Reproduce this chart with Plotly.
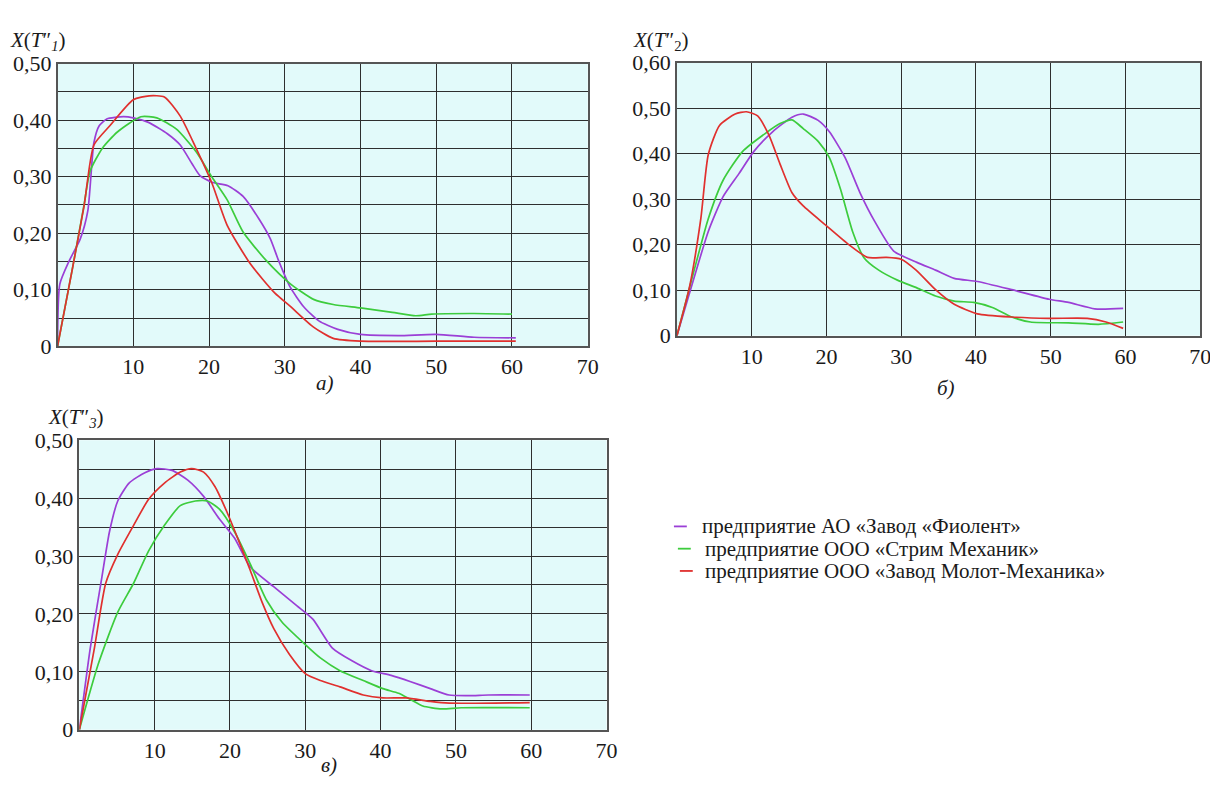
import plotly.graph_objects as go

W, H = 1218, 788
OFF = 8  # default page body margin of the written html

companies = ["предприятие АО «Завод «Фиолент»",
             "предприятие ООО «Стрим Механик»",
             "предприятие ООО «Завод Молот-Механика»"]
colors = ["#9b3fd6", "#3dcc3d", "#e0302e"]

# ---- panel а) X(T1'') ----
a_purple_x = [0, 0.3, 1.5, 3, 4, 4.8, 5.5, 6.5, 8.7, 10, 12, 14.5, 16.2, 17.8, 18.8, 20.4, 22.5, 24.5, 26.6, 28.1, 29.2, 30.7, 32.5, 34.5, 37, 40, 45, 50, 55, 60.5]
a_purple_y = [0, 0.11, 0.15, 0.19, 0.24, 0.36, 0.39, 0.402, 0.406, 0.404, 0.396, 0.376, 0.356, 0.322, 0.302, 0.29, 0.284, 0.265, 0.225, 0.19, 0.151, 0.105, 0.07, 0.045, 0.03, 0.021, 0.019, 0.021, 0.016, 0.015]
a_green_x = [0, 2, 3.5, 4.3, 5.9, 7.9, 11, 13.1, 15.7, 18.3, 20.4, 22.4, 24.5, 27.6, 30.7, 33.8, 36.4, 40, 44.2, 47.3, 49.4, 55, 60]
a_green_y = [0, 0.14, 0.25, 0.31, 0.35, 0.379, 0.406, 0.404, 0.384, 0.344, 0.299, 0.259, 0.202, 0.151, 0.111, 0.083, 0.074, 0.068, 0.06, 0.054, 0.057, 0.058, 0.057]
a_red_x = [0, 2, 3.5, 4.8, 6.9, 10, 12.1, 14.1, 16.2, 18.3, 20.4, 22.4, 25.5, 28.7, 30.7, 33.8, 36.4, 40, 50, 60.5]
a_red_y = [0, 0.14, 0.248, 0.356, 0.39, 0.436, 0.443, 0.441, 0.407, 0.35, 0.288, 0.214, 0.145, 0.094, 0.071, 0.034, 0.014, 0.009, 0.009, 0.009]

# ---- panel б) X(T2'') ----
b_purple_x = [0, 1.7, 4.2, 6.2, 8.3, 10.3, 12.8, 15.4, 16.9, 18.9, 20.4, 22.5, 24.5, 26.5, 29, 32.1, 34.6, 37.1, 40.2, 44.8, 49.8, 52.4, 55.9, 59.7]
b_purple_y = [0, 0.094, 0.229, 0.306, 0.356, 0.405, 0.448, 0.48, 0.487, 0.473, 0.448, 0.391, 0.314, 0.25, 0.186, 0.161, 0.144, 0.126, 0.119, 0.101, 0.08, 0.073, 0.059, 0.06]
b_green_x = [0, 2.2, 4.2, 6.2, 8.8, 11.8, 13.8, 15.4, 16.9, 18.9, 20.4, 21.9, 23.5, 25, 27, 29.5, 32.1, 34.6, 37.1, 39.7, 42.2, 44.8, 47.3, 52.4, 56.4, 59.7]
b_green_y = [0, 0.137, 0.257, 0.342, 0.405, 0.444, 0.466, 0.474, 0.455, 0.427, 0.391, 0.321, 0.229, 0.172, 0.144, 0.122, 0.105, 0.087, 0.076, 0.073, 0.062, 0.041, 0.03, 0.028, 0.025, 0.03]
b_red_x = [0, 1.7, 3.2, 4.2, 5.7, 7.8, 9.3, 10.8, 12.3, 13.8, 15.4, 16.9, 19.9, 23, 25.5, 28, 30, 32, 34.6, 37.1, 40.2, 44.8, 49.8, 54.9, 57.4, 59.7]
b_red_y = [0, 0.108, 0.257, 0.398, 0.462, 0.487, 0.492, 0.483, 0.441, 0.377, 0.314, 0.285, 0.243, 0.2, 0.172, 0.172, 0.168, 0.144, 0.101, 0.069, 0.048, 0.041, 0.038, 0.038, 0.03, 0.016]

# ---- panel в) X(T3'') ----
c_purple_x = [0, 1.45, 3.0, 4.0, 5.1, 6.6, 8.7, 10.3, 12.3, 14.4, 16.5, 18.6, 20.6, 22.7, 25.8, 28.9, 31, 33.6, 36.2, 38.8, 41.4, 44, 46.6, 49.1, 51.7, 54.3, 59.8]
c_purple_y = [0, 0.141, 0.264, 0.342, 0.395, 0.426, 0.444, 0.451, 0.448, 0.431, 0.403, 0.364, 0.331, 0.281, 0.247, 0.214, 0.191, 0.141, 0.119, 0.102, 0.094, 0.083, 0.071, 0.06, 0.059, 0.06, 0.06]
c_green_x = [0, 2.5, 5.1, 7.2, 9.2, 11.3, 13.4, 15.4, 17, 18.6, 20.6, 22.7, 24.8, 26.9, 30, 32, 34.6, 37.7, 40.3, 42.4, 44, 45.6, 48.1, 50.7, 59.8]
c_green_y = [0, 0.113, 0.203, 0.253, 0.309, 0.353, 0.387, 0.395, 0.395, 0.381, 0.342, 0.286, 0.225, 0.186, 0.147, 0.124, 0.102, 0.085, 0.071, 0.063, 0.052, 0.041, 0.036, 0.038, 0.038]
c_red_x = [0, 2, 3.5, 5.1, 7.2, 9.2, 11.3, 13.4, 14.9, 16.5, 18, 19.6, 21.2, 22.7, 24.3, 25.8, 27.9, 30, 32, 34.6, 37.7, 40.3, 43.4, 46.6, 49.1, 59.8]
c_red_y = [0, 0.141, 0.253, 0.303, 0.353, 0.398, 0.426, 0.445, 0.451, 0.445, 0.42, 0.376, 0.325, 0.275, 0.219, 0.175, 0.13, 0.097, 0.085, 0.074, 0.06, 0.055, 0.055, 0.049, 0.046, 0.047]

x_ticks = [10, 20, 30, 40, 50, 60, 70]
y_ticks_ac = [0, 0.1, 0.2, 0.3, 0.4, 0.5]
y_text_ac = ["0", "0,10", "0,20", "0,30", "0,40", "0,50"]
y_ticks_b = [0, 0.1, 0.2, 0.3, 0.4, 0.5, 0.6]
y_text_b = ["0", "0,10", "0,20", "0,30", "0,40", "0,50", "0,60"]

panels = [
    ("x", "y", (a_purple_x, a_purple_y), (a_green_x, a_green_y), (a_red_x, a_red_y)),
    ("x2", "y2", (b_purple_x, b_purple_y), (b_green_x, b_green_y), (b_red_x, b_red_y)),
    ("x3", "y3", (c_purple_x, c_purple_y), (c_green_x, c_green_y), (c_red_x, c_red_y)),
]

fig = go.Figure()
for xa, ya, *series in panels:
    for (sx, sy), col, name in zip(series, colors, companies):
        fig.add_trace(go.Scatter(x=sx, y=sy, mode="lines", xaxis=xa, yaxis=ya,
                                 line=dict(color=col, width=1.7, shape="spline", smoothing=0.6),
                                 name=name, showlegend=False, hoverinfo="skip"))


def px(v):
    return (v - OFF) / W


def py(v):
    return 1 - (v - OFF) / H


serif = "Times New Roman"
font_tick = dict(family=serif, size=22, color="#1a1a1a")
grid_col = "#2e2e2e"


def xax(domain, anchor):
    return dict(domain=domain, anchor=anchor, range=[0, 70], tickvals=x_ticks,
                ticks="", showgrid=True, gridcolor=grid_col, gridwidth=1.3,
                showline=True, linecolor="#555", linewidth=1.5, mirror=True,
                zeroline=False, tickfont=font_tick, fixedrange=True)


def yax(domain, anchor, rng, tv, tt, minor_step):
    d = dict(domain=domain, anchor=anchor, range=rng, tickvals=tv, ticktext=tt,
             ticks="", showgrid=True, gridcolor=grid_col, gridwidth=1.3,
             showline=True, linecolor="#555", linewidth=1.5, mirror=True,
             zeroline=False, tickfont=font_tick, fixedrange=True)
    if minor_step:
        d["minor"] = dict(tick0=0, dtick=minor_step, showgrid=True,
                          gridcolor=grid_col, gridwidth=1.3, ticks="")
    return d


fig.update_layout(
    width=W, height=H, margin=dict(l=0, r=0, t=0, b=0),
    paper_bgcolor="white", plot_bgcolor="#e2fafa",
    showlegend=False, font=dict(family=serif),
    xaxis=xax([px(58), px(593)], "y"),
    yaxis=yax([py(345), py(53)], "x", [0, 0.5], y_ticks_ac, y_text_ac, 0.05),
    xaxis2=xax([px(683), px(1211)], "y2"),
    yaxis2=yax([py(334), py(52)], "x2", [0, 0.6], y_ticks_b, y_text_b, None),
    xaxis3=xax([px(80), px(612)], "y3"),
    yaxis3=yax([py(741), py(442)], "x3", [0, 0.5], y_ticks_ac, y_text_ac, 0.05),
)

ann = []
titles = [("<i>X</i>(<i>T</i>″<sub><i>1</i></sub>)", 38, 30),
          ("<i>X</i>(<i>T</i>″<sub>2</sub>)", 667, 30),
          ("<i>X</i>(<i>T</i>″<sub><i>3</i></sub>)", 77, 419)]
for t, x, y in titles:
    ann.append(dict(text=t, x=px(x), y=py(y), xref="paper", yref="paper",
                    showarrow=False, xanchor="center", yanchor="middle",
                    font=dict(family=serif, size=21, color="#1a1a1a")))
sub_labels = [("<i>а)</i>", 328, 383), ("<i>б)</i>", 955, 388), ("<i>в)</i>", 332, 777)]
for t, x, y in sub_labels:
    ann.append(dict(text=t, x=px(x), y=py(y), xref="paper", yref="paper",
                    showarrow=False, xanchor="center", yanchor="middle",
                    font=dict(family=serif, size=21, color="#1a1a1a")))

legend_pos = [(680, 693, 706, 531), (684, 697, 709, 554), (686, 699, 709, 577)]
shapes = []
for (x0, x1, tx, y), col, name in zip(legend_pos, colors, companies):
    shapes.append(dict(type="line", xref="paper", yref="paper",
                       x0=px(x0), x1=px(x1), y0=py(y), y1=py(y),
                       line=dict(color=col, width=1.8)))
    ann.append(dict(text=name, x=px(tx), y=py(y), xref="paper", yref="paper",
                    showarrow=False, xanchor="left", yanchor="middle",
                    font=dict(family=serif, size=21, color="#1a1a1a")))

fig.update_layout(annotations=ann, shapes=shapes)
fig.write_html("out.html")
